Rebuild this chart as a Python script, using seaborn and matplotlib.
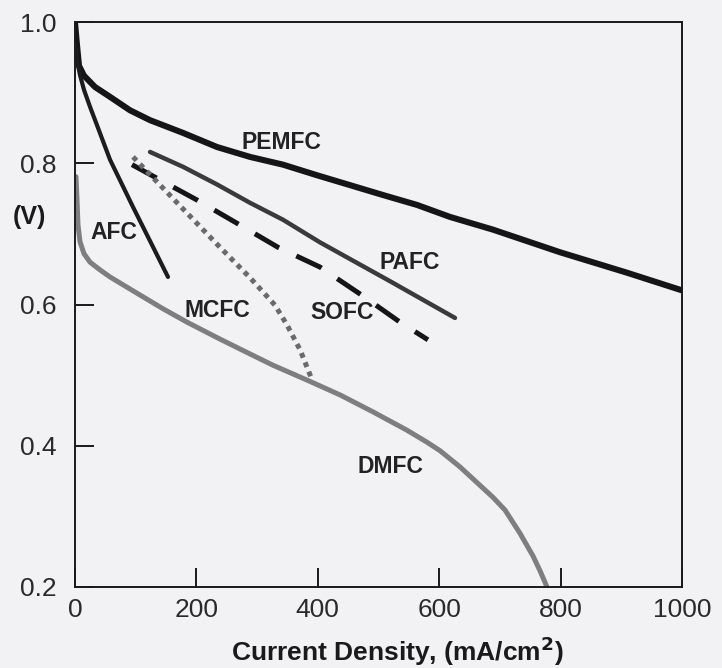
import numpy as np
import pandas as pd
import matplotlib
matplotlib.use("Agg")
import matplotlib.pyplot as plt
import seaborn as sns

# ---- data (current density mA/cm^2, cell voltage V) ----
pemfc_x = [0, 3.3, 6.6, 14.8, 32.9, 57.7, 90.6, 123.6, 177.9, 233.9, 288.3, 342.7, 398.7,
           453.1, 507.4, 563.4, 617.8, 688.6, 799.0, 909.4, 1000]
pemfc_y = [0.999, 0.967, 0.938, 0.924, 0.908, 0.894, 0.875, 0.861, 0.843, 0.823, 0.809, 0.798, 0.783,
           0.769, 0.755, 0.741, 0.724, 0.706, 0.674, 0.645, 0.620]

afc_x = [0, 3.3, 8.2, 14.8, 24.7, 36.2, 57.7, 95.6, 123.6, 153.2]
afc_y = [0.969, 0.946, 0.925, 0.904, 0.880, 0.854, 0.805, 0.738, 0.690, 0.639]

pafc_x = [123.6, 177.9, 233.9, 288.3, 342.7, 403.6, 518.9, 626.0]
pafc_y = [0.816, 0.795, 0.770, 0.744, 0.720, 0.688, 0.633, 0.581]

sofc_x = [93.9, 200.9, 266.9, 334.4, 403.6, 472.8, 535.4, 581.5]
sofc_y = [0.798, 0.748, 0.715, 0.681, 0.653, 0.613, 0.575, 0.550]

mcfc_x = [95.6, 140.3, 189.5, 238.9, 288.3, 329.5, 349.3, 370.7, 388.8]
mcfc_y = [0.809, 0.769, 0.725, 0.681, 0.638, 0.599, 0.571, 0.536, 0.497]

dmfc_x = [1.6, 3.3, 4.9, 8.2, 14.8, 24.7, 41.2, 57.7, 102.1, 145.0, 184.5, 238.9, 288.3, 326.2,
          382.2, 436.6, 490.9, 546.9, 579.9, 601.3, 634.3, 688.6, 708.4, 733.1, 754.5, 766.1, 777.6]
dmfc_y = [0.781, 0.748, 0.713, 0.689, 0.672, 0.660, 0.649, 0.639, 0.616, 0.594, 0.575, 0.551, 0.530, 0.514,
          0.493, 0.472, 0.448, 0.422, 0.405, 0.393, 0.370, 0.327, 0.309, 0.276, 0.244, 0.223, 0.200]

x_ticks = [0, 200, 400, 600, 800, 1000]
x_ticklabels = ["0", "200", "400", "600", "800", "1000"]
y_ticks = [0.2, 0.4, 0.6, 0.8, 1.0]
y_ticklabels = ["0.2", "0.4", "0.6", "0.8", "1.0"]

# ---- styling ----
sns.set_theme(style="white")
plt.rcParams["font.family"] = ["Liberation Sans", "DejaVu Sans"]
bg = "#f2f2f5"

fig = plt.figure(figsize=(7.22, 6.68), dpi=100, facecolor=bg)
ax = fig.add_axes([75 / 722, 1 - 587 / 668, 607 / 722, 565 / 668])
ax.set_facecolor(bg)

series = [
    ("PEMFC", pemfc_x, pemfc_y, "#151515", 4.4, "-"),
    ("AFC", afc_x, afc_y, "#1c1c1c", 3.0, "-"),
    ("PAFC", pafc_x, pafc_y, "#3a3a3a", 3.2, "-"),
    ("SOFC", sofc_x, sofc_y, "#151515", 3.6, (0, (5.6, 3.8))),
    ("MCFC", mcfc_x, mcfc_y, "#6a6a6a", 3.6, (0, (1, 1))),
    ("DMFC", dmfc_x, dmfc_y, "#7e7e7e", 3.6, "-"),
]

for name, xs, ys, col, lw, ls in series:
    df = pd.DataFrame({"x": xs, "y": ys})
    sns.lineplot(data=df, x="x", y="y", ax=ax, sort=False, estimator=None,
                 color=col, linewidth=lw, linestyle=ls, legend=False)
    line = ax.get_lines()[-1]
    line.set_dash_capstyle("butt")
    line.set_solid_capstyle("round")
    line.set_solid_joinstyle("round")

ax.set_xlim(0, 1000)
ax.set_ylim(0.2, 1.0)
ax.set_xticks(x_ticks)
ax.set_xticklabels(x_ticklabels)
ax.set_yticks(y_ticks)
ax.set_yticklabels(y_ticklabels)
ax.tick_params(axis="both", which="major", direction="in", length=14, width=1.4,
               bottom=True, left=True, top=False, right=False,
               color="#1a1a1a", labelsize=19, labelcolor="#2a2a2a")
ax.tick_params(axis="x", pad=8)
ax.tick_params(axis="y", pad=13)
for sp in ax.spines.values():
    sp.set_visible(True)
    sp.set_color("#1a1a1a")
    sp.set_linewidth(1.4)
ax.set_xlabel("")
ax.set_ylabel("")

# curve labels
labels = [
    ("PEMFC", 339.5, 0.830),
    ("AFC", 64.2, 0.702),
    ("PAFC", 551.9, 0.660),
    ("MCFC", 233.9, 0.592),
    ("SOFC", 439.8, 0.588),
    ("DMFC", 518.9, 0.370),
]
for txt, lx, ly in labels:
    ax.text(lx, ly, txt, fontsize=16.5, fontweight="bold", color="#222222",
            ha="center", va="center")

fig.text(29 / 722, 1 - 217 / 668, "(V)", fontsize=18, fontweight="bold",
         color="#1a1a1a", ha="center", va="center")
fig.text(397 / 722, 1 - 651 / 668, "Current Density, (mA/cm$^\\mathbf{2}$)",
         fontsize=19, fontweight="bold", color="#1a1a1a", ha="center", va="center")

fig.savefig("out.png", dpi=100, facecolor=bg)
